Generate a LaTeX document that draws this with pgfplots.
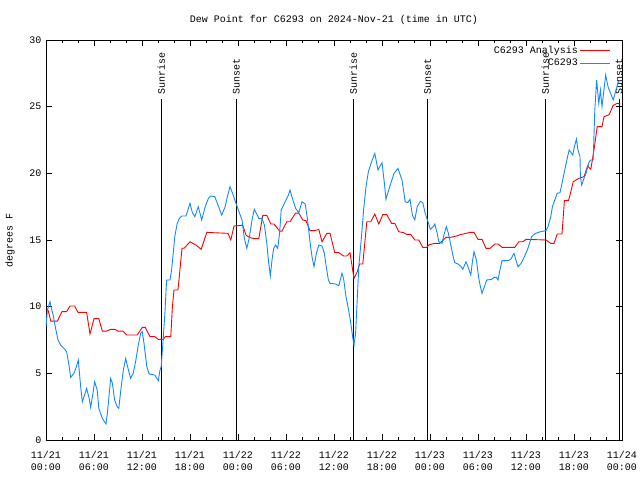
\documentclass[border=0pt]{standalone}
\usepackage{fontspec}
\setmainfont{Liberation Mono}
\usepackage{pgfplots}
\pgfplotsset{compat=1.18}
\definecolor{obsblue}{RGB}{20,136,255}
\definecolor{anared}{RGB}{255,0,0}
\begin{document}
\fontsize{10}{12}\selectfont
\begin{tikzpicture}
\begin{axis}[
  scale only axis, width=576pt, height=400pt,
  xmin=0, xmax=72, ymin=0, ymax=30,
  xtick={0,6,...,72},
  xticklabels={{11/21\\00:00},{11/21\\06:00},{11/21\\12:00},{11/21\\18:00},{11/22\\00:00},{11/22\\06:00},{11/22\\12:00},{11/22\\18:00},{11/23\\00:00},{11/23\\06:00},{11/23\\12:00},{11/23\\18:00},{11/24\\00:00}},
  xticklabel style={align=center, yshift=-8pt},
  yticklabel style={xshift=-1pt},
  minor x tick num=2,
  ytick={0,5,...,30},
  tick align=inside,
  major tick length=6pt, minor tick length=3pt,
  tick style={black, line width=0.6pt},
  axis line style={line width=0.8pt},
  /pgf/number format/assume math mode=true,
  legend style={draw=none, fill=none, at={(rel axis cs:1,1)}, anchor=north east, xshift=-10pt, yshift=-3pt, row sep=0pt, inner sep=1pt},
  legend cell align=right,
  legend plot pos=right,
  legend image code/.code={\draw[#1] (0pt,0pt) -- (30pt,0pt);},
]
% sunrise / sunset lines
\addplot[black, line width=0.8pt, forget plot] coordinates {(14.42,0) (14.42,25.6)};
\addplot[black, line width=0.8pt, forget plot] coordinates {(23.79,0) (23.79,25.6)};
\addplot[black, line width=0.8pt, forget plot] coordinates {(38.42,0) (38.42,25.6)};
\addplot[black, line width=0.8pt, forget plot] coordinates {(47.71,0) (47.71,25.6)};
\addplot[black, line width=0.8pt, forget plot] coordinates {(62.42,0) (62.42,25.6)};
\addplot[black, line width=0.8pt, forget plot] coordinates {(71.63,0) (71.63,25.6)};
\node[rotate=90, anchor=west, inner sep=0pt] at (axis cs:14.42,25.9) {Sunrise};
\node[rotate=90, anchor=west, inner sep=0pt] at (axis cs:23.79,25.9) {Sunset};
\node[rotate=90, anchor=west, inner sep=0pt] at (axis cs:38.42,25.9) {Sunrise};
\node[rotate=90, anchor=west, inner sep=0pt] at (axis cs:47.71,25.9) {Sunset};
\node[rotate=90, anchor=west, inner sep=0pt] at (axis cs:62.42,25.9) {Sunrise};
\node[rotate=90, anchor=west, inner sep=0pt] at (axis cs:71.63,25.9) {Sunset};

\addplot[anared, line width=0.9pt] coordinates {
(0,9.75) (0.25,9.75) (0.6,8.92) (1.42,8.92) (2.0,9.63) (2.58,9.63) (3.0,10.05) (3.58,10.05)
(4.0,9.57) (5.08,9.57) (5.5,7.95) (6.0,9.1) (6.6,9.1) (7.04,8.17) (7.6,8.17) (8.08,8.3)
(8.6,8.3) (9.0,8.17) (9.6,8.17) (10.08,7.875) (11.4,7.875) (12.04,8.45) (12.4,8.45) (13.0,7.75)
(13.6,7.75) (14.04,7.55) (14.67,7.55) (14.9,7.75) (15.6,7.75) (15.8,10.0) (16.0,11.25) (16.5,11.25)
(17.0,14.37) (17.3,14.4) (18.0,14.87) (18.8,14.6) (19.4,14.3) (20.1,15.57) (22.75,15.5) (23.1,15.0)
(23.5,16.05) (24.6,16.1) (25.0,15.37) (25.4,15.2) (26.0,15.1) (26.6,15.1) (27.1,16.85) (27.6,16.85)
(28.1,16.2) (28.5,16.2) (29.2,15.67) (29.5,15.67) (30.1,16.37) (30.5,16.37) (31.2,17.02) (31.6,17.02)
(32.1,16.5) (32.5,16.45) (33.0,15.7) (33.6,15.7) (34.1,15.8) (34.5,14.87) (35.1,15.5) (35.5,15.5)
(36.1,14.05) (36.6,14.05) (37.2,13.8) (37.6,13.8) (38.0,14.05) (38.3,12.87) (38.5,12.12) (38.9,12.6)
(39.2,13.2) (39.6,13.2) (40.1,16.37) (40.6,16.37) (41.1,16.95) (41.6,16.2) (42.1,16.9) (42.6,16.9)
(43.2,16.25) (43.6,16.25) (44.1,15.62) (44.7,15.55) (45.1,15.42) (45.6,15.42) (46.1,15.0) (46.6,15.0)
(47.1,14.45) (47.6,14.45) (47.9,14.65) (48.6,14.75) (49.2,14.75) (50.0,15.2) (50.6,15.2) (51.3,15.3)
(51.8,15.4) (52.5,15.5) (53.0,15.57) (53.5,15.57) (54.0,15.05) (54.5,15.05) (55.0,14.37) (55.5,14.37)
(56.1,14.7) (56.5,14.7) (57.0,14.45) (58.6,14.45) (59.1,14.87) (59.6,14.87) (60.0,15.05) (62.5,15.0)
(63.1,14.75) (63.5,14.75) (63.9,15.45) (64.5,15.45) (64.8,17.95) (65.3,17.95) (65.5,18.37) (65.9,19.37)
(66.6,19.62) (67.25,19.75) (67.7,20.55) (68.1,20.3) (68.5,21.75) (68.9,23.5) (69.5,23.5) (69.75,24.25)
(70.4,24.4) (70.9,25.1) (71.4,25.25) (71.8,25.2)
};
\addlegendentry{C6293 Analysis}

\addplot[obsblue, line width=0.9pt] coordinates {
(0,8.5) (0.17,9.75) (0.5,10.37) (0.67,9.87) (0.9,9.37) (1.2,8.37) (1.5,7.5) (1.83,7.12)
(2.25,6.87) (2.58,6.62) (2.9,5.5) (3.08,4.7) (3.5,5.0) (3.8,5.5) (4.04,6.0) (4.33,4.0)
(4.54,2.87) (4.75,3.25) (5.08,3.87) (5.4,3.12) (5.58,2.45) (5.87,3.5) (6.08,4.37) (6.4,3.75)
(6.6,2.37) (7.04,1.62) (7.5,1.2) (7.67,2.0) (7.87,3.25) (8.08,4.62) (8.3,4.25) (8.58,3.0)
(8.9,2.5) (9.1,2.37) (9.4,4.0) (9.67,5.25) (9.96,6.12) (10.25,5.37) (10.58,4.62) (10.9,5.0)
(11.2,5.87) (11.5,7.0) (11.83,8.0) (12.04,8.12) (12.25,7.25) (12.4,6.5) (12.6,5.5) (12.9,4.95)
(13.6,4.87) (14.04,4.45) (14.25,5.25) (14.4,5.5) (14.67,7.75) (14.87,9.62) (15.08,12.0) (15.5,12.0)
(15.7,12.75) (15.9,14.0) (16.1,15.25) (16.4,16.25) (16.67,16.62) (16.96,16.8) (17.5,16.8) (17.8,17.37)
(18.0,17.75) (18.3,17.05) (18.6,16.75) (19.04,17.5) (19.46,16.5) (19.9,17.5) (20.3,18.12) (20.6,18.3)
(21.1,18.25) (21.5,17.62) (21.96,16.87) (22.4,17.5) (22.67,18.25) (23.0,19.0) (23.4,18.37) (23.75,17.75)
(24.2,17.0) (24.5,16.5) (24.8,15.12) (25.1,14.37) (25.4,15.12) (25.75,16.5) (26.04,17.3) (26.3,17.0)
(26.6,16.62) (27.0,16.62) (27.3,16.12) (27.6,14.75) (27.8,13.5) (28.04,12.3) (28.25,13.5) (28.46,14.37)
(28.7,14.62) (28.96,14.37) (29.2,15.5) (29.4,17.25) (29.7,17.62) (30.0,18.0) (30.3,18.37) (30.5,18.75)
(30.8,18.12) (31.2,17.37) (31.6,17.05) (32.0,17.87) (32.4,17.7) (32.7,16.5) (33.0,14.87) (33.25,13.75)
(33.5,13.0) (33.8,14.0) (34.1,14.62) (34.5,14.55) (34.8,14.0) (35.0,13.12) (35.3,12.0) (35.5,11.75)
(36.2,11.7) (36.6,11.57) (37.0,12.5) (37.2,12.1) (37.5,10.75) (37.75,10.0) (38.04,9.0) (38.33,7.75)
(38.5,7.12) (38.7,8.0) (38.9,10.5) (39.1,13.0) (39.4,15.0) (39.7,17.25) (40.0,19.0) (40.3,20.12)
(40.7,20.87) (41.1,21.5) (41.5,20.25) (42.0,20.8) (42.3,19.25) (42.5,18.05) (42.9,18.87) (43.5,20.0)
(44.0,20.37) (44.5,19.5) (44.9,17.87) (45.2,17.8) (45.5,18.05) (45.8,16.87) (46.1,16.5) (46.4,17.5)
(46.8,17.9) (47.1,17.8) (47.4,17.0) (47.75,16.37) (48.04,15.8) (48.4,16.0) (48.6,16.2) (48.9,15.5)
(49.1,14.87) (49.5,14.75) (49.75,15.4) (50.04,16.0) (50.3,15.5) (50.6,14.62) (50.9,13.75) (51.1,13.3)
(51.5,13.2) (51.9,13.0) (52.1,12.8) (52.5,13.37) (52.75,13.0) (53.1,12.37) (53.3,13.37) (53.5,14.12)
(53.8,13.5) (54.1,12.12) (54.3,11.5) (54.5,11.0) (54.8,11.5) (55.1,12.0) (55.7,12.05) (56.0,12.2)
(56.3,12.2) (56.5,12.0) (56.7,12.62) (57.0,13.45) (57.75,13.45) (58.1,13.55) (58.5,14.0) (58.8,13.37)
(59.0,13.0) (59.4,13.25) (59.8,13.75) (60.2,14.3) (60.7,15.25) (61.2,15.5) (61.8,15.62) (62.5,15.7)
(62.75,16.0) (63.1,16.75) (63.3,17.5) (63.6,18.0) (63.9,18.5) (64.25,18.55) (64.5,19.25) (64.8,20.12)
(65.2,21.25) (65.4,21.75) (65.7,21.5) (65.85,21.37) (66.0,21.87) (66.3,22.57) (66.5,21.75) (66.75,21.25)
(66.8,19.75) (66.96,19.12) (67.25,19.62) (67.5,20.0) (67.9,20.87) (68.1,21.0) (68.4,21.0) (68.6,24.75)
(68.83,27.0) (69.1,25.25) (69.3,26.25) (69.5,25.0) (69.96,27.37) (70.25,26.5) (70.5,26.12) (70.9,25.5)
(71.2,26.12) (71.5,26.8) (71.7,27.0)
};
\addlegendentry{C6293}
\end{axis}
\node at ([yshift=20pt]current axis.north) {Dew Point for C6293 on 2024-Nov-21 (time in UTC)};
\node[rotate=90] at ([xshift=-36pt]current axis.west) {degrees F};
\pgfresetboundingbox
\path[use as bounding box] (current axis.south west) ++(-46pt,-40pt) rectangle ++(640pt,480pt);
\end{tikzpicture}
\end{document}
